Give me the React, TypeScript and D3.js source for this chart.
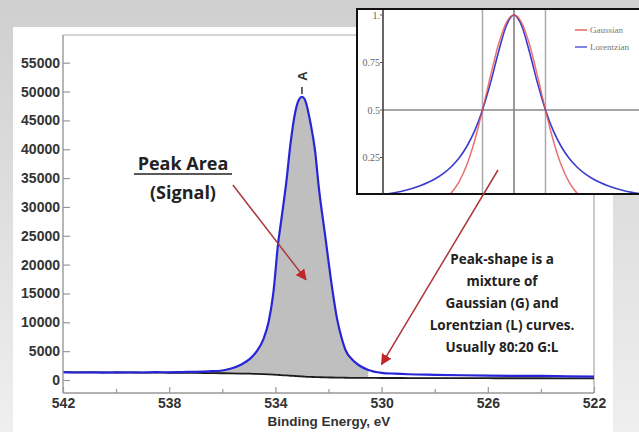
import React, { useEffect, useRef } from 'react';
import * as d3 from 'd3';

// XPS O 1s spectrum (binding energy in eV, counts)
const energies = [542, 541.5, 541, 540.5, 540, 539.5, 539, 538.5, 538, 537.5, 537, 536.5, 536, 535.7, 535.3, 534.95, 534.7, 534.45, 534.25, 534.08, 533.89, 533.8, 533.58, 533.43, 533.25, 533.1, 533.0, 532.9, 532.68, 532.5, 532.38, 532.11, 531.92, 531.66, 531.5, 531.36, 531.1, 530.87, 530.5, 530.0, 529.5, 529, 528, 527, 526, 525, 524, 523, 522];
const envelope = [1380, 1300, 1330, 1280, 1310, 1340, 1300, 1350, 1330, 1380, 1420, 1500, 1650, 1950, 2650, 3700, 5000, 7100, 10200, 15000, 24000, 27000, 34700, 41000, 46500, 48700, 49100, 48700, 44600, 39500, 34000, 24500, 17800, 10200, 7200, 5200, 3500, 2600, 1750, 1250, 1100, 1000, 900, 820, 760, 720, 700, 640, 600];
const background = [1350, 1330, 1320, 1310, 1300, 1290, 1280, 1270, 1260, 1250, 1230, 1200, 1170, 1150, 1120, 1090, 1060, 1020, 980, 940, 880, 850, 790, 740, 690, 650, 620, 590, 540, 510, 490, 450, 430, 410, 400, 390, 380, 370, 360, 350, 345, 340, 330, 320, 310, 300, 300, 290, 280];

const yTicks = [0, 5000, 10000, 15000, 20000, 25000, 30000, 35000, 40000, 45000, 50000, 55000];
const xMajor = [542, 538, 534, 530, 526, 522];
const xMinor = [540, 536, 532, 528, 524];

// inset: normalised line shapes, x in units of half width
const insetX = [-4.2, -4, -3.5, -3, -2.5, -2.25, -2, -1.75, -1.5, -1.25, -1, -0.75, -0.5, -0.25, 0, 0.25, 0.5, 0.75, 1, 1.25, 1.5, 1.75, 2, 2.25, 2.5, 3, 3.5, 4];
const gaussian = [0, 0, 0.0002, 0.002, 0.013, 0.03, 0.0625, 0.12, 0.21, 0.338, 0.5, 0.677, 0.841, 0.958, 1, 0.958, 0.841, 0.677, 0.5, 0.338, 0.21, 0.12, 0.0625, 0.03, 0.013, 0.002, 0.0002, 0];
const lorentzian = [0.054, 0.059, 0.075, 0.1, 0.138, 0.165, 0.2, 0.246, 0.308, 0.39, 0.5, 0.64, 0.8, 0.941, 1, 0.941, 0.8, 0.64, 0.5, 0.39, 0.308, 0.246, 0.2, 0.165, 0.138, 0.1, 0.075, 0.059];
const insetTicks = [1, 0.75, 0.5, 0.25];
const insetTickLabels = ['1.', '0.75', '0.5', '0.25'];
const insetGuides = [-1, 0, 1];
const legendNames = ['Gaussian', 'Lorentzian'];

const noteLines = ['Peak-shape is a', 'mixture of', 'Gaussian (G) and', 'Lorentzian (L) curves.', 'Usually 80:20 G:L'];

const W = 639;
const H = 432;

const App = () => {
  const svgRef = useRef<SVGSVGElement>(null);

  useEffect(() => {
    const svg = d3.select(svgRef.current);
    svg.selectAll('*').remove();

    const left = 63, right = 594, top = 35, bottom = 393;
    const x = d3.scaleLinear().domain([542, 522]).range([left, right]);
    const y = d3.scaleLinear().domain([0, 55000]).range([380, 62.7]);

    const defs = svg.append('defs');
    const grad = defs.append('linearGradient').attr('id', 'bg').attr('x1', 0).attr('y1', 0).attr('x2', 0).attr('y2', 1);
    grad.append('stop').attr('offset', '0%').attr('stop-color', '#cfcfcf');
    grad.append('stop').attr('offset', '100%').attr('stop-color', '#efefef');
    defs.append('marker')
      .attr('id', 'head')
      .attr('viewBox', '0 0 10 10')
      .attr('refX', 9).attr('refY', 5)
      .attr('markerWidth', 11).attr('markerHeight', 11)
      .attr('markerUnits', 'userSpaceOnUse')
      .attr('orient', 'auto')
      .append('path').attr('d', 'M0,0 L10,5 L0,10 Z').attr('fill', '#c0262a');
    defs.append('clipPath').attr('id', 'insetClip')
      .append('rect').attr('x', 358).attr('y', 10).attr('width', 290).attr('height', 183);

    // page background + white panel
    svg.append('rect').attr('width', W).attr('height', H).attr('fill', 'url(#bg)');
    svg.append('rect').attr('x', 13).attr('y', 27).attr('width', 600).attr('height', 420).attr('fill', '#fff');

    // frame
    svg.append('path')
      .attr('d', `M${left},${top} H${right} V${bottom}`)
      .attr('fill', 'none').attr('stroke', '#aaa').attr('stroke-width', 1.2);

    const pts = energies.map((e, i) => ({ e, v: envelope[i], b: background[i] }));

    // peak area fill
    const area = d3.area<any>()
      .x((d) => x(d.e)).y0((d) => y(d.b)).y1((d) => y(d.v))
      .curve(d3.curveMonotoneX);
    svg.append('path')
      .datum(pts.filter((d) => d.e <= 536.5 && d.e >= 530.5))
      .attr('d', area)
      .attr('fill', '#bfbfbf');

    const bgLine = d3.line<any>().x((d) => x(d.e)).y((d) => y(d.b)).curve(d3.curveMonotoneX);
    svg.append('path').datum(pts).attr('d', bgLine)
      .attr('fill', 'none').attr('stroke', '#1c1c1c').attr('stroke-width', 1.8);

    const envLine = d3.line<any>().x((d) => x(d.e)).y((d) => y(d.v)).curve(d3.curveMonotoneX);
    svg.append('path').datum(pts).attr('d', envLine)
      .attr('fill', 'none').attr('stroke', '#2626d6').attr('stroke-width', 2.2);

    // axes
    const yAxis = svg.append('g')
      .attr('transform', `translate(${left},0)`)
      .call(d3.axisLeft(y).tickValues(yTicks).tickSize(-7).tickPadding(3).tickFormat(d3.format('d')));
    yAxis.select('.domain').remove();
    svg.append('line').attr('x1', left).attr('x2', left).attr('y1', top).attr('y2', bottom)
      .attr('stroke', '#999').attr('stroke-width', 1.4);

    const xAxis = svg.append('g')
      .attr('transform', `translate(0,${bottom})`)
      .call(d3.axisBottom(x).tickValues(xMajor).tickSize(-6).tickPadding(5).tickFormat(d3.format('d')));
    xAxis.select('.domain').remove();
    svg.append('g')
      .attr('transform', `translate(0,${bottom})`)
      .call(d3.axisBottom(x).tickValues(xMinor).tickSize(-4).tickFormat(() => ''))
      .select('.domain').remove();
    svg.append('line').attr('x1', left).attr('x2', right).attr('y1', bottom).attr('y2', bottom)
      .attr('stroke', '#999').attr('stroke-width', 1.4);

    svg.selectAll('.tick line').attr('stroke', '#999').attr('stroke-width', 1.2);
    svg.selectAll('.tick text')
      .attr('fill', '#333')
      .style('font-family', '"Liberation Sans", Arial, sans-serif')
      .style('font-weight', 'bold')
      .style('font-size', '14px');

    svg.append('text')
      .attr('x', 329).attr('y', 426)
      .attr('text-anchor', 'middle')
      .attr('fill', '#333')
      .style('font-family', '"Liberation Sans", Arial, sans-serif')
      .style('font-weight', 'bold')
      .style('font-size', '13.5px')
      .text('Binding Energy, eV');

    // peak label A
    const peakX = x(533.0);
    svg.append('line').attr('x1', peakX).attr('x2', peakX).attr('y1', 87).attr('y2', 94)
      .attr('stroke', '#333').attr('stroke-width', 1.5);
    svg.append('text')
      .attr('transform', `translate(${peakX + 5},76) rotate(-90)`)
      .attr('text-anchor', 'middle')
      .attr('fill', '#333')
      .style('font-family', '"Liberation Sans", Arial, sans-serif')
      .style('font-weight', 'bold')
      .style('font-size', '13px')
      .text('A');

    // Peak Area annotation
    const annot = svg.append('g')
      .attr('fill', '#222')
      .style('font-family', '"Open Sans", sans-serif')
      .style('font-weight', 'bold');
    annot.append('text').attr('x', 183).attr('y', 170).attr('text-anchor', 'middle')
      .style('font-size', '18px').text('Peak Area');
    annot.append('line').attr('x1', 134).attr('x2', 232).attr('y1', 174).attr('y2', 174)
      .attr('stroke', '#222').attr('stroke-width', 1.4);
    annot.append('text').attr('x', 183).attr('y', 199).attr('text-anchor', 'middle')
      .style('font-size', '18px').text('(Signal)');

    svg.append('line')
      .attr('x1', x(535.6)).attr('y1', y(33800))
      .attr('x2', x(532.85)).attr('y2', y(17400))
      .attr('stroke', '#a83a3a').attr('stroke-width', 1.5)
      .attr('marker-end', 'url(#head)');

    // peak-shape note
    const note = svg.append('g')
      .attr('fill', '#222')
      .style('font-family', '"Open Sans", sans-serif')
      .style('font-weight', 'bold')
      .style('font-size', '13.5px');
    noteLines.forEach((t, i) => {
      note.append('text').attr('x', 502).attr('y', 264 + i * 22).attr('text-anchor', 'middle').text(t);
    });

    // inset
    const ix = d3.scaleLinear().domain([-4.16, 3.97]).range([383, 639]);
    const iy = d3.scaleLinear().domain([0, 1]).range([205, 15]);
    const inset = svg.append('g');
    inset.append('rect').attr('x', 357).attr('y', 9).attr('width', 300).attr('height', 185)
      .attr('fill', '#fff').attr('stroke', '#111').attr('stroke-width', 2);
    const ic = inset.append('g').attr('clip-path', 'url(#insetClip)');
    insetGuides.forEach((g) => {
      ic.append('line').attr('x1', ix(g)).attr('x2', ix(g)).attr('y1', 10).attr('y2', 194)
        .attr('stroke', g === 0 ? '#777' : '#aaa').attr('stroke-width', 1.5);
    });
    ic.append('line').attr('x1', 383).attr('x2', 639).attr('y1', iy(0.5)).attr('y2', iy(0.5))
      .attr('stroke', '#888').attr('stroke-width', 1.3);
    const ipts = insetX.map((v, i) => ({ v, g: gaussian[i], l: lorentzian[i] }));
    ic.append('path').datum(ipts)
      .attr('d', d3.line<any>().x((d) => ix(d.v)).y((d) => iy(d.l)).curve(d3.curveMonotoneX))
      .attr('fill', 'none').attr('stroke', '#3b3bd0').attr('stroke-width', 1.6);
    ic.append('path').datum(ipts)
      .attr('d', d3.line<any>().x((d) => ix(d.v)).y((d) => iy(d.g)).curve(d3.curveMonotoneX))
      .attr('fill', 'none').attr('stroke', '#e0504c').attr('stroke-width', 1.5).attr('opacity', 0.8);
    inset.append('line').attr('x1', 383).attr('x2', 383).attr('y1', 10).attr('y2', 194)
      .attr('stroke', '#333').attr('stroke-width', 1.5);
    insetTicks.forEach((t, i) => {
      inset.append('line').attr('x1', 380).attr('x2', 383).attr('y1', iy(t)).attr('y2', iy(t))
        .attr('stroke', '#555');
      inset.append('text').attr('x', 380).attr('y', iy(t) + 3.5).attr('text-anchor', 'end')
        .attr('fill', '#666')
        .style('font-family', '"Liberation Serif", serif')
        .style('font-size', '10px')
        .text(insetTickLabels[i]);
    });
    const legendColors = ['#e0504c', '#3b3bd0'];
    legendNames.forEach((n, i) => {
      const ly = 30 + i * 17;
      inset.append('line').attr('x1', 575).attr('x2', 587).attr('y1', ly).attr('y2', ly)
        .attr('stroke', legendColors[i]).attr('stroke-width', 1.6).attr('opacity', 0.8);
      inset.append('text').attr('x', 590).attr('y', ly + 3).attr('fill', '#777')
        .style('font-family', '"Liberation Serif", serif')
        .style('font-size', '9px')
        .text(n);
    });

    // second arrow runs over the inset
    svg.append('line')
      .attr('x1', 498).attr('y1', 170)
      .attr('x2', x(530.0)).attr('y2', y(2700))
      .attr('stroke', '#b03434').attr('stroke-width', 1.5)
      .attr('marker-end', 'url(#head)');
  }, []);

  return (
    <svg ref={svgRef} width={W} height={H} style={{ position: 'absolute', left: 0, top: 0 }} />
  );
};

export default App;
